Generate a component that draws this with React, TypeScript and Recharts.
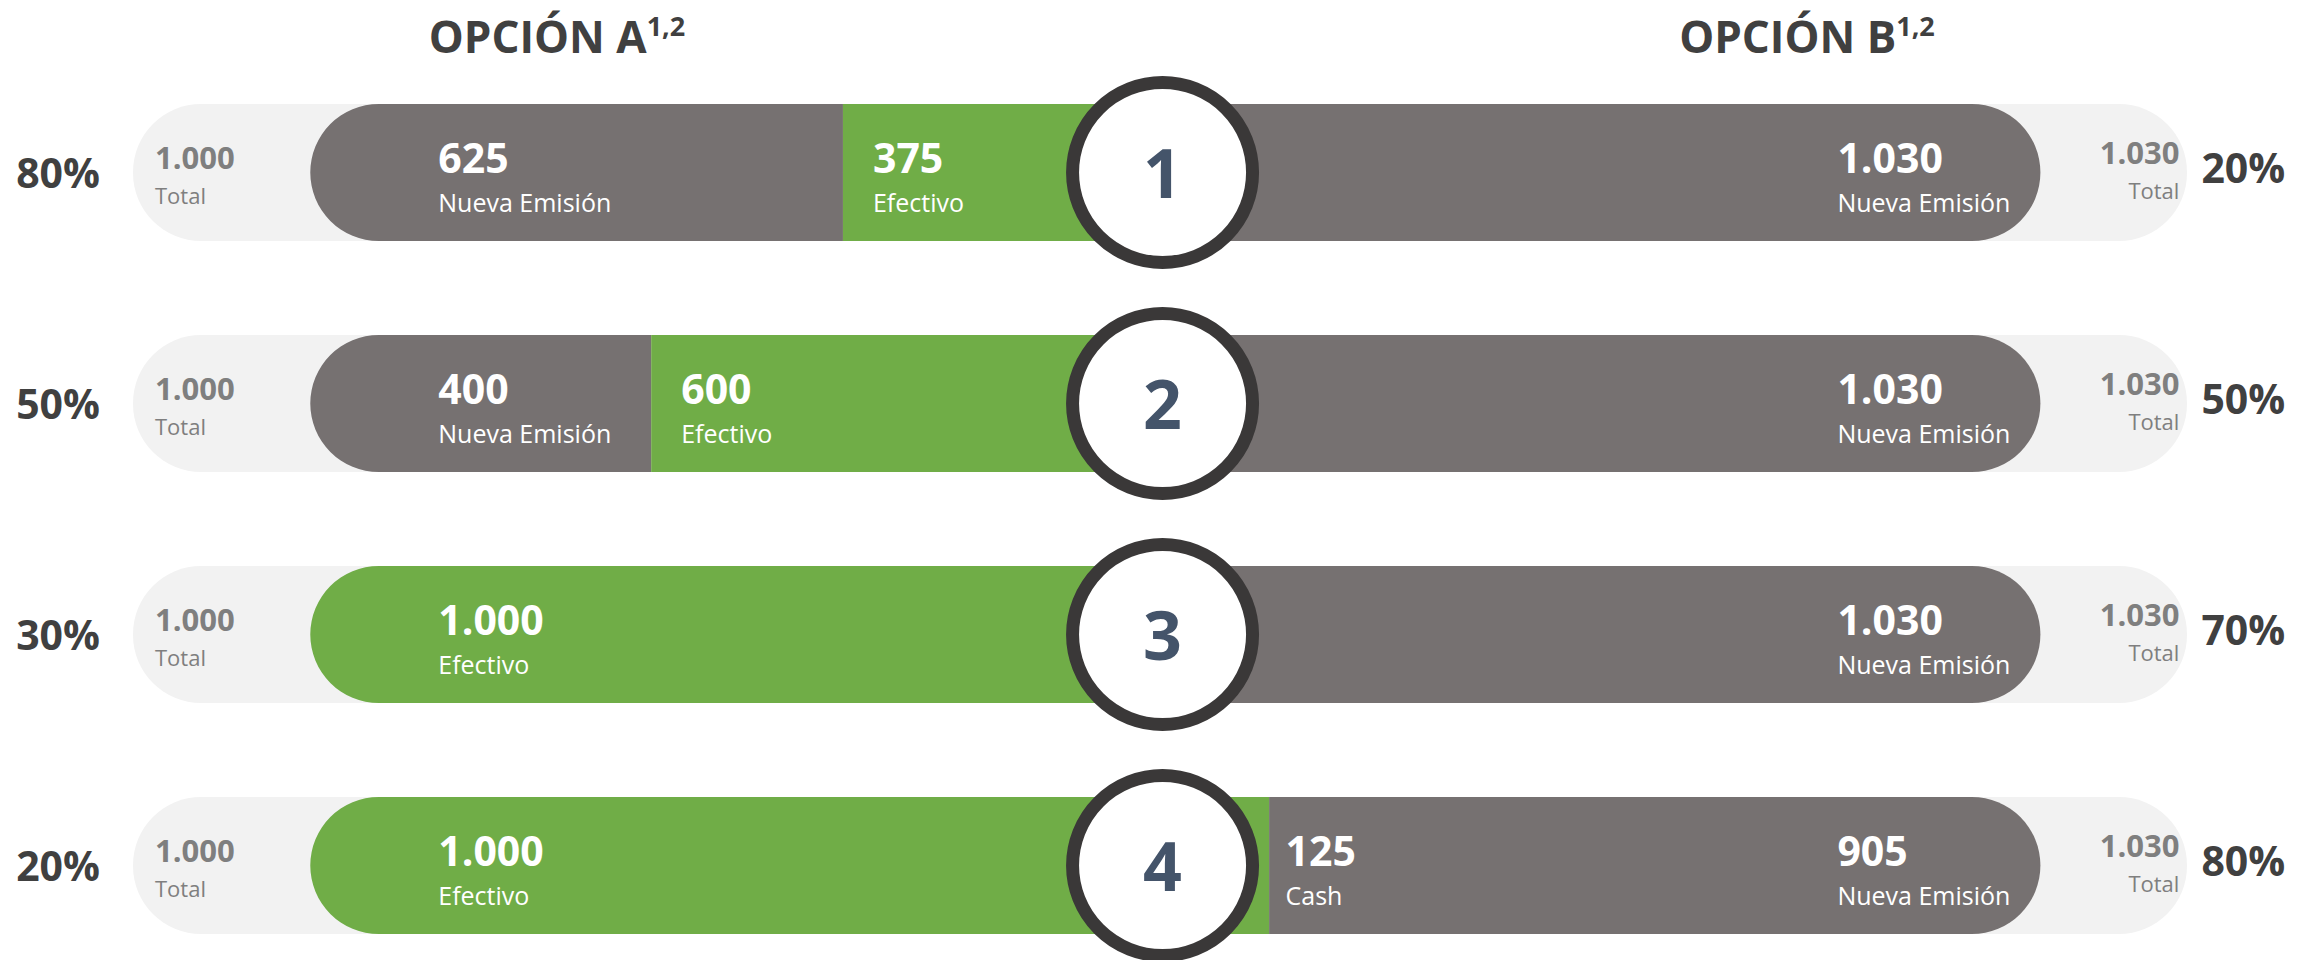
import React from 'react'
import { BarChart, Bar, XAxis, YAxis, LabelList, Rectangle } from 'recharts'

// escenarios (filas) y sus valores
const rows = ['1', '2', '3', '4']
const aNueva = [625, 400, 0, 0]
const aEfectivo = [375, 600, 1000, 1000]
const bCash = [0, 0, 0, 125]
const bNueva = [1030, 1030, 1030, 905]
const pctA = ['80%', '50%', '30%', '20%']
const pctB = ['20%', '50%', '70%', '80%']
const segKeys = ['aNueva', 'aEfectivo', 'bCash', 'bNueva']
const segNames: Record<string, string> = {
  aNueva: 'Nueva Emisión',
  aEfectivo: 'Efectivo',
  bCash: 'Cash',
  bNueva: 'Nueva Emisión',
}

const data = rows.map((row, i) => ({
  row,
  aNueva: aNueva[i],
  aEfectivo: aEfectivo[i],
  bCash: bCash[i],
  bNueva: bNueva[i],
}))

const FONT = '"Open Sans", sans-serif'
const GREEN = '#70ad47'
const DARK = '#767171'
const LIGHT = '#f2f2f2'
const GREY_TEXT = '#7f7f7f'
const TEXT = '#404040'
const NUM = '#44546a'

const fmt = (n: number) => String(n).replace(/\B(?=(\d{3})+(?!\d))/g, '.')
const segColor: Record<string, string> = { aNueva: DARK, aEfectivo: GREEN, bCash: GREEN, bNueva: DARK }

const W = 2321
const H = 990
const margin = { top: 57, right: 134, bottom: 9, left: 0 }

const segShape = (key: string) => (props: any) => {
  const { x, y, width, height, payload } = props
  if (!width || width < 0.5) return null
  const nz = segKeys.filter((k) => payload[k] > 0)
  const first = nz[0] === key
  const last = nz[nz.length - 1] === key
  const r = height / 2
  return (
    <Rectangle
      x={x}
      y={y}
      width={width}
      height={height}
      fill={segColor[key]}
      radius={[first ? r : 0, last ? r : 0, last ? r : 0, first ? r : 0]}
    />
  )
}

const box = (props: any) => {
  const vb = props.viewBox || props
  return { x: +vb.x, y: +vb.y, width: +vb.width, height: +vb.height }
}

const segLabel = (key: string) => (props: any) => {
  const i = rows.indexOf(String(props.value))
  if (i < 0) return null
  const d: any = data[i]
  const v = d[key]
  if (!v) return null
  const { x, y, width, height } = box(props)
  const cy = y + height / 2
  let tx = x + 30
  if (key === 'aNueva' || (key === 'aEfectivo' && !d.aNueva)) tx = x + 128
  if (key === 'bCash') tx = x + 123
  if (key === 'bNueva') tx = x + width - 203
  return (
    <g>
      <text x={tx} y={cy} fill="#fff" fontSize={41} fontWeight={700} fontFamily={FONT}>
        {fmt(v)}
      </text>
      <text x={tx} y={cy + 39} fill="#fff" fontSize={25} fontFamily={FONT}>
        {segNames[key]}
      </text>
    </g>
  )
}

// círculo numerado en la unión entre opción A y opción B
const circleLabel = (props: any) => {
  const { x, y, width, height } = box(props)
  const cx = x + width
  const cy = y + height / 2
  return (
    <g>
      <circle cx={cx} cy={cy} r={90} fill="#fff" stroke="#3a3838" strokeWidth={13} />
      <text x={cx} y={cy + 25} textAnchor="middle" fill={NUM} fontSize={68} fontWeight={700} fontFamily={FONT}>
        {props.value}
      </text>
    </g>
  )
}

const rightLabel = (props: any) => {
  const i = rows.indexOf(String(props.value))
  if (i < 0) return null
  const { x, y, width, height } = box(props)
  const end = x + width
  const cy = y + height / 2
  return (
    <g>
      <text x={end + 139} y={cy - 9} textAnchor="end" fill={GREY_TEXT} fontSize={31} fontWeight={700} fontFamily={FONT}>
        {fmt(bCash[i] + bNueva[i])}
      </text>
      <text x={end + 139} y={cy + 26} textAnchor="end" fill={GREY_TEXT} fontSize={22} fontFamily={FONT}>
        Total
      </text>
      <text x={end + 161} y={cy + 10} fill={TEXT} fontSize={41} fontWeight={700} fontFamily={FONT}>
        {pctB[i]}
      </text>
    </g>
  )
}

const leftTick = (props: any) => {
  const { x, y, payload } = props
  const i = rows.indexOf(String(payload.value))
  if (i < 0) return null
  return (
    <g>
      <text x={x - 33} y={y + 15} textAnchor="end" fill={TEXT} fontSize={41} fontWeight={700} fontFamily={FONT}>
        {pctA[i]}
      </text>
      <text x={x + 22} y={y - 4} fill={GREY_TEXT} fontSize={31} fontWeight={700} fontFamily={FONT}>
        {fmt(aNueva[i] + aEfectivo[i])}
      </text>
      <text x={x + 22} y={y + 31} fill={GREY_TEXT} fontSize={22} fontFamily={FONT}>
        Total
      </text>
    </g>
  )
}

function Layer({ labels }: { labels: boolean }) {
  return (
    <BarChart layout="vertical" width={W} height={H} data={data} margin={margin} barSize={137}>
      <XAxis type="number" hide domain={[-208, 2202]} allowDataOverflow />
      <YAxis
        type="category"
        dataKey="row"
        width={133}
        axisLine={false}
        tickLine={false}
        tickSize={0}
        tickMargin={0}
        tick={labels ? leftTick : false}
      />
      {segKeys.map((key, j) => (
        <Bar
          key={key}
          dataKey={key}
          stackId="s"
          isAnimationActive={false}
          fill={labels ? 'none' : segColor[key]}
          shape={labels ? () => null : segShape(key)}
          background={!labels && j === 0 ? { fill: LIGHT, radius: 68 } : undefined}
        >
          {labels && <LabelList dataKey="row" content={segLabel(key)} />}
          {labels && key === 'aEfectivo' && <LabelList dataKey="row" content={circleLabel} />}
          {labels && key === 'bNueva' && <LabelList dataKey="row" content={rightLabel} />}
        </Bar>
      ))}
    </BarChart>
  )
}

export default function App() {
  return (
    <div style={{ position: 'absolute', top: 0, left: 0, width: W, height: 960, overflow: 'hidden', background: '#fff' }}>
      <div style={{ position: 'absolute', top: 0, left: 0 }}>
        <Layer labels={false} />
      </div>
      <div style={{ position: 'absolute', top: 0, left: 0 }}>
        <Layer labels />
      </div>
      <svg width={W} height={70} style={{ position: 'absolute', top: 0, left: 0 }}>
        <text x={557} y={53} textAnchor="middle" fill={TEXT} fontSize={44} fontWeight={700} fontFamily={FONT}>
          OPCIÓN A<tspan fontSize={27} dy={-17}>1,2</tspan>
        </text>
        <text x={1807} y={53} textAnchor="middle" fill={TEXT} fontSize={44} fontWeight={700} fontFamily={FONT}>
          OPCIÓN B<tspan fontSize={27} dy={-17}>1,2</tspan>
        </text>
      </svg>
    </div>
  )
}
